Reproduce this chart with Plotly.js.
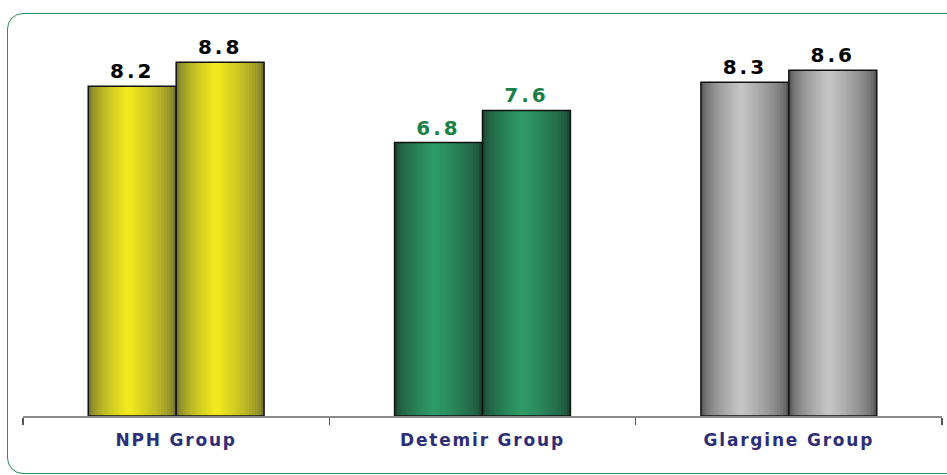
<!DOCTYPE html>
<html>
<head>
<meta charset="utf-8">
<script src="https://cdn.plot.ly/plotly-3.0.1.min.js"></script>
<style>
  html, body { margin: 0; padding: 0; background: #ffffff; }
  #wrap { position: relative; width: 947px; height: 475px; overflow: hidden; }
  #chart { position: absolute; left: 0; top: 0; width: 947px; height: 475px; }
  #frame { position: absolute; left: 7px; top: 13px; width: 980px; height: 459px;
           border: 1.5px solid #2a8f5a; border-radius: 16px; pointer-events: none; }
  #chart .xtick text { letter-spacing: 1.8px; }
  #chart text.bartext { letter-spacing: 3px; }
</style>
</head>
<body>
<div id="wrap">
  <div id="chart"></div>
  <div id="frame"></div>
</div>
<script>
// ---- data ----
const categories = ['NPH Group', 'Detemir Group', 'Glargine Group'];
const seriesA = [8.2, 6.8, 8.3];
const seriesB = [8.8, 7.6, 8.6];
const labelColors = ['#000000', '#1a8046', '#000000'];

// ---- styles ----
const edgeColors = [[118, 118, 46], [27, 72, 50], [88, 88, 88]];
const centerColors = [[242, 234, 30], [46, 154, 104], [196, 196, 196]];
const barW = 0.287;
const nLayers = 16;

function mix(a, b, t) {
  return 'rgb(' + a.map((v, i) => Math.round(v + (b[i] - v) * t)).join(',') + ')';
}

const traces = [];
[[seriesA, -barW], [seriesB, 0]].forEach(([vals, off], si) => {
  const hl = 0.45; // highlight position within bar
  for (let k = 0; k < nLayers; k++) {
    const f = 1 - k / nLayers;
    const t = Math.pow(k / (nLayers - 1), 0.6);
    traces.push({
      type: 'bar', x: categories, y: vals,
      offset: off + barW * hl - barW * hl * f,
      width: barW * f,
      marker: { color: edgeColors.map((e, i) => mix(e, centerColors[i], t)), line: { width: 0 } },
      hoverinfo: 'skip', showlegend: false
    });
  }
  traces.push({
    type: 'bar', x: categories, y: vals,
    offset: off, width: barW,
    marker: { color: 'rgba(0,0,0,0)', line: { color: '#111111', width: 1.5 } },
    text: vals.map(v => v.toFixed(1)),
    textposition: 'outside',
    textfont: { family: 'DejaVu Sans, Verdana, sans-serif', size: 20, color: labelColors, weight: 'bold' },
    cliponaxis: false,
    showlegend: false
  });
});

const layout = {
  width: 947, height: 475,
  margin: { l: 23, r: 5, t: 20, b: 59 },
  paper_bgcolor: '#ffffff', plot_bgcolor: '#ffffff',
  barmode: 'overlay',
  showlegend: false,
  xaxis: {
    type: 'category',
    showline: true, linecolor: '#8a8a8a', linewidth: 1.5,
    ticks: 'outside', tickson: 'boundaries', ticklen: 7, tickcolor: '#555555', tickwidth: 1.5,
    tickfont: { family: 'DejaVu Sans, Verdana, sans-serif', size: 17, color: '#2e2e78', weight: 'bold' },
    ticklabelstandoff: 8,
    showgrid: false, zeroline: false
  },
  yaxis: {
    range: [0, 9.85], visible: false, showgrid: false, zeroline: false
  }
};

Plotly.newPlot('chart', traces, layout, { displayModeBar: false, staticPlot: true });
</script>
</body>
</html>
